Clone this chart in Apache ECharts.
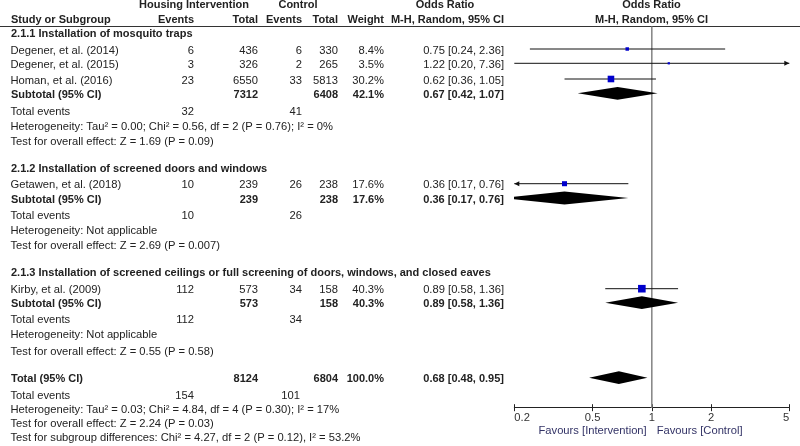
<!DOCTYPE html>
<html><head><meta charset="utf-8">
<script src="https://cdn.jsdelivr.net/npm/echarts@6/dist/echarts.min.js"></script>
<style>html,body{margin:0;padding:0;background:#fff}#c{width:800px;height:446px}</style>
</head><body><div id="c"></div>
<script>
// ---------------- DATA ----------------
const studies = ['Degener, et al. (2014)', 'Degener, et al. (2015)', 'Homan, et al. (2016)', 'Getawen, et al. (2018)', 'Kirby, et al. (2009)'];
const studyGroup = [0, 0, 0, 1, 2];
const intEvents = [6, 3, 23, 10, 112];
const intTotal = [436, 326, 6550, 239, 573];
const ctlEvents = [6, 2, 33, 26, 34];
const ctlTotal = [330, 265, 5813, 238, 158];
const weights = [8.4, 3.5, 30.2, 17.6, 40.3];
const orEst = [0.75, 1.22, 0.62, 0.36, 0.89];
const orLow = [0.24, 0.20, 0.36, 0.17, 0.58];
const orHigh = [2.36, 7.36, 1.05, 0.76, 1.36];

const subgroups = ['2.1.1 Installation of mosquito traps', '2.1.2 Installation of screened doors and windows', '2.1.3 Installation of screened ceilings or full screening of doors, windows, and closed eaves'];
const subIntTotal = [7312, 239, 573];
const subCtlTotal = [6408, 238, 158];
const subIntEvents = [32, 10, 112];
const subCtlEvents = [41, 26, 34];
const subWeight = [42.1, 17.6, 40.3];
const subEst = [0.67, 0.36, 0.89];
const subLow = [0.42, 0.17, 0.58];
const subHigh = [1.07, 0.76, 1.36];
const subHet = ['Heterogeneity: Tau\u00b2 = 0.00; Chi\u00b2 = 0.56, df = 2 (P = 0.76); I\u00b2 = 0%', 'Heterogeneity: Not applicable', 'Heterogeneity: Not applicable'];
const subTest = ['Test for overall effect: Z = 1.69 (P = 0.09)', 'Test for overall effect: Z = 2.69 (P = 0.007)', 'Test for overall effect: Z = 0.55 (P = 0.58)'];

const totIntTotal = 8124, totCtlTotal = 6804, totWeight = 100.0;
const totEst = 0.68, totLow = 0.48, totHigh = 0.95;
const totIntEvents = 154, totCtlEvents = 101;
const totHet = 'Heterogeneity: Tau\u00b2 = 0.03; Chi\u00b2 = 4.84, df = 4 (P = 0.30); I\u00b2 = 17%';
const totTest = 'Test for overall effect: Z = 2.24 (P = 0.03)';
const totSubTest = 'Test for subgroup differences: Chi\u00b2 = 4.27, df = 2 (P = 0.12), I\u00b2 = 53.2%';

const tickVals = [0.2, 0.5, 1, 2, 5];
const favLeft = 'Favours [Intervention]';
const favRight = 'Favours [Control]';

// ---------------- LAYOUT ----------------
const FONT = '"Liberation Sans", Arial, sans-serif';
const FS = 11.2, FSB = 11;
const TXT = '#222';
const X = {label: 10.5, intEv: 194, intTot: 258, ctlEv: 302, ctlTot: 338, weight: 384, orText: 504, plotC: 651.5};
const HEAD1 = 5, HEAD2 = 20, HEADLINE = 26.5, AXIS_Y = 407.7;
const studyRowY = [49, 63.3, 79, 183.7, 288.7];
const subRowY = [93.3, 198, 302.7];
const titleY = [34.3, 169.3, 273];
const teY = [112, 215.7, 320];
const hetY = [126.7, 230.7, 335];
const testY = [142.3, 245.7, 351.7];
const totRowY = 377.7, totTeY = 396, totHetY = 410, totTestY = 423.7, totSubY = 437.7;
const TOFF = 1.6; // text offset relative to marks

const fmtOR = (e, l, h) => e.toFixed(2) + ' [' + l.toFixed(2) + ', ' + h.toFixed(2) + ']';
const fmtW = w => w.toFixed(1) + '%';

const els = [];
function txt(s, x, y, align, bold, color) {
  els.push({type: 'text', silent: true, style: {
    text: String(s), x: x, y: y, textAlign: align, textVerticalAlign: 'middle',
    align: align, verticalAlign: 'middle',
    fontSize: bold ? FSB : FS, fontFamily: FONT, fontWeight: bold ? 'bold' : 'normal', fill: color || TXT
  }});
}
// headers
txt('Housing Intervention', 194, HEAD1, 'center', true);
txt('Control', 298, HEAD1, 'center', true);
txt('Odds Ratio', 445, HEAD1, 'center', true);
txt('Odds Ratio', X.plotC, HEAD1, 'center', true);
txt('Study or Subgroup', 11, HEAD2, 'left', true);
txt('Events', X.intEv, HEAD2, 'right', true);
txt('Total', X.intTot, HEAD2, 'right', true);
txt('Events', X.ctlEv, HEAD2, 'right', true);
txt('Total', X.ctlTot, HEAD2, 'right', true);
txt('Weight', X.weight, HEAD2, 'right', true);
txt('M-H, Random, 95% CI', X.orText, HEAD2, 'right', true);
txt('M-H, Random, 95% CI', X.plotC, HEAD2, 'center', true);
els.push({type: 'line', silent: true, shape: {x1: 0, y1: HEADLINE, x2: 800, y2: HEADLINE}, style: {stroke: '#333', lineWidth: 1}});

// subgroups
for (let g = 0; g < subgroups.length; g++) {
  txt(subgroups[g], 11, titleY[g], 'left', true);
  for (let i = 0; i < studies.length; i++) {
    if (studyGroup[i] !== g) continue;
    const y = studyRowY[i] + TOFF;
    txt(studies[i], X.label, y, 'left');
    txt(intEvents[i], X.intEv, y, 'right');
    txt(intTotal[i], X.intTot, y, 'right');
    txt(ctlEvents[i], X.ctlEv, y, 'right');
    txt(ctlTotal[i], X.ctlTot, y, 'right');
    txt(fmtW(weights[i]), X.weight, y, 'right');
    txt(fmtOR(orEst[i], orLow[i], orHigh[i]), X.orText, y, 'right');
  }
  const ys = subRowY[g] + TOFF;
  txt('Subtotal (95% CI)', 11, ys, 'left', true);
  txt(subIntTotal[g], X.intTot, ys, 'right', true);
  txt(subCtlTotal[g], X.ctlTot, ys, 'right', true);
  txt(fmtW(subWeight[g]), X.weight, ys, 'right', true);
  txt(fmtOR(subEst[g], subLow[g], subHigh[g]), X.orText, ys, 'right', true);
  txt('Total events', X.label, teY[g], 'left');
  txt(subIntEvents[g], X.intEv, teY[g], 'right');
  txt(subCtlEvents[g], X.ctlEv, teY[g], 'right');
  txt(subHet[g], X.label, hetY[g], 'left');
  txt(subTest[g], X.label, testY[g], 'left');
}
// overall
const yt = totRowY + 1;
txt('Total (95% CI)', 11, yt, 'left', true);
txt(totIntTotal, X.intTot, yt, 'right', true);
txt(totCtlTotal, X.ctlTot, yt, 'right', true);
txt(fmtW(totWeight), X.weight, yt, 'right', true);
txt(fmtOR(totEst, totLow, totHigh), X.orText, yt, 'right', true);
txt('Total events', X.label, totTeY, 'left');
txt(totIntEvents, X.intEv, totTeY, 'right');
txt(totCtlEvents, X.ctlEv - 2, totTeY, 'right');
txt(totHet, X.label, totHetY, 'left');
txt(totTest, X.label, totTestY, 'left');
txt(totSubTest, X.label, totSubY, 'left');
txt(favLeft, 646.7, 431, 'right', false, '#333366');
txt(favRight, 656.7, 431, 'left', false, '#333366');

// ---------------- CHART ----------------
const AX_MIN = tickVals[0], AX_MAX = tickVals[tickVals.length - 1];
const chart = echarts.init(document.getElementById('c'), null, {renderer: 'canvas'});

const studyData = studies.map((s, i) => [orEst[i], orLow[i], orHigh[i], studyRowY[i], weights[i]]);
const diamondData = subEst.map((e, g) => [e, subLow[g], subHigh[g], subRowY[g]]).concat([[totEst, totLow, totHigh, totRowY]]);

const option = {
  animation: false,
  backgroundColor: '#fff',
  grid: {left: 514.3, right: 10.7, top: 0, bottom: 446 - AXIS_Y, containLabel: false},
  xAxis: [{
    type: 'log', logBase: 10, min: AX_MIN, max: AX_MAX, position: 'bottom',
    axisLine: {show: true, onZero: false, lineStyle: {color: '#222', width: 1}},
    axisTick: {show: true, length: 3.5, customValues: tickVals, lineStyle: {color: '#222', width: 1}},
    axisLabel: {show: true, customValues: tickVals, formatter: v => String(Math.round(v * 10) / 10),
      color: '#333', fontSize: FS, fontFamily: FONT, margin: 5, alignMinLabel: 'left', alignMaxLabel: 'right'},
    splitLine: {show: false}, minorTick: {show: false}, minorSplitLine: {show: false}
  }, {
    type: 'log', logBase: 10, min: AX_MIN, max: AX_MAX, position: 'bottom',
    axisLine: {show: false, onZero: false},
    axisTick: {show: true, inside: true, length: 3.5, customValues: tickVals, lineStyle: {color: '#222', width: 1}},
    axisLabel: {show: false}, splitLine: {show: false}
  }],
  yAxis: {type: 'value', min: 0, max: AXIS_Y, inverse: true, show: false},
  series: [
    {
      type: 'custom', name: 'ref', silent: true, data: [[1]], clip: false,
      renderItem: (params, api) => {
        const a = api.coord([api.value(0), HEADLINE]);
        const b = api.coord([api.value(0), AXIS_Y]);
        return {type: 'line', shape: {x1: a[0], y1: a[1], x2: b[0], y2: b[1]}, style: {stroke: '#8a8a8a', lineWidth: 1.6}};
      }
    },
    {
      type: 'custom', name: 'studies', silent: true, data: studyData, clip: false,
      encode: {x: 0, y: 3},
      renderItem: (params, api) => {
        const est = api.value(0), lo = api.value(1), hi = api.value(2), yv = api.value(3), w = api.value(4);
        const p = api.coord([est, yv]);
        const pl = api.coord([Math.max(lo, AX_MIN), yv]);
        const ph = api.coord([Math.min(hi, AX_MAX), yv]);
        const y = p[1];
        const ch = [{type: 'line', shape: {x1: pl[0], y1: y, x2: ph[0], y2: y}, style: {stroke: '#111', lineWidth: 1}}];
        if (hi > AX_MAX) ch.push({type: 'polygon', shape: {points: [[ph[0], y], [ph[0] - 5, y - 2.5], [ph[0] - 5, y + 2.5]]}, style: {fill: '#111'}});
        if (lo < AX_MIN) ch.push({type: 'polygon', shape: {points: [[pl[0], y], [pl[0] + 5, y - 2.5], [pl[0] + 5, y + 2.5]]}, style: {fill: '#111'}});
        const s = 1.2 * Math.sqrt(w);
        ch.push({type: 'rect', shape: {x: p[0] - s / 2, y: y - s / 2, width: s, height: s}, style: {fill: '#0000cc'}});
        return {type: 'group', children: ch};
      }
    },
    {
      type: 'custom', name: 'diamonds', silent: true, data: diamondData, clip: true,
      encode: {x: 0, y: 3},
      renderItem: (params, api) => {
        const est = api.value(0), lo = api.value(1), hi = api.value(2), yv = api.value(3);
        const p = api.coord([est, yv]);
        const pl = api.coord([lo, yv]);
        const ph = api.coord([hi, yv]);
        const h = 6.4;
        return {type: 'polygon', shape: {points: [[pl[0], p[1]], [p[0], p[1] - h], [ph[0], p[1]], [p[0], p[1] + h]]}, style: {fill: '#000'}};
      }
    }
  ],
  graphic: {elements: els}
};
chart.setOption(option);
</script>
</body></html>
